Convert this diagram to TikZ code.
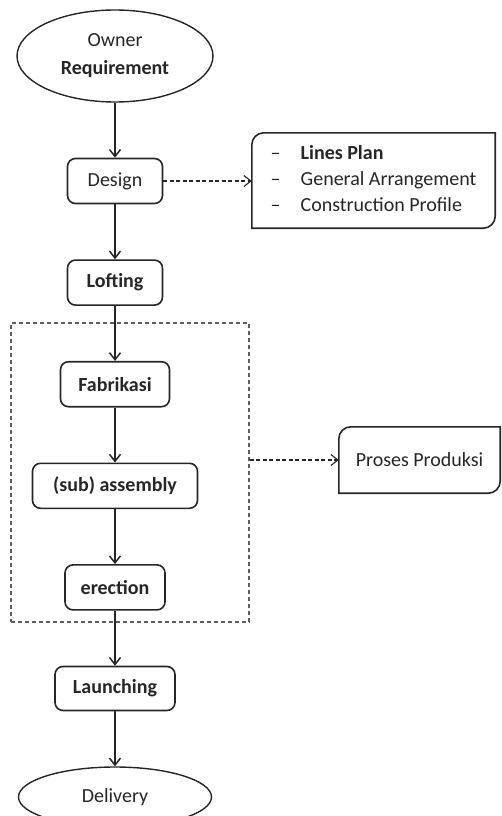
\documentclass[tikz,border=0pt]{standalone}
\usepackage{fontspec}
\setmainfont{Carlito}
\usetikzlibrary{positioning, arrows.meta, shapes.geometric}
\definecolor{flowInk}{HTML}{262626}
\definecolor{frameGrey}{HTML}{5E5E5E}
% outline with two diagonal corners rounded
\newcommand{\diagframe}[1]{%
  \draw[flowInk, line width=1.6pt] (#1.south west) -- ([yshift=-12pt]#1.north west)
    arc[start angle=180, end angle=90, radius=12pt] -- (#1.north east)
    -- ([yshift=12pt]#1.south east) arc[start angle=0, end angle=-90, radius=12pt] -- cycle;}

\begin{document}
\begin{tikzpicture}[x=1pt, y=1pt, font=\fontsize{20}{28}\selectfont, node distance=55pt,
    every node/.style={text=flowInk},
    stage/.style={draw=flowInk, line width=1.6pt, rounded corners=8pt, minimum height=45pt, inner sep=2pt},
    terminal/.style={draw=flowInk, line width=1.4pt, ellipse, inner sep=0pt},
    flow/.style={draw=flowInk, line width=1.5pt, -{Straight Barb[length=7pt, width=11pt]}},
    hint/.style={draw=flowInk, line width=1.1pt, dash pattern=on 4pt off 2.5pt, -{Straight Barb[length=7pt, width=11pt]}}]

  \useasboundingbox (0,0) rectangle (502,-816);

  % main chain
  \node[terminal, minimum width=196pt, minimum height=92pt, align=center] (owner) at (115,-56)
    {Owner\\\textbf{Requirement}};
  \node[stage, minimum width=95pt, below=of owner] (design) {Design};
  \node[stage, minimum width=95pt, below=of design] (lofting) {\textbf{Lofting}};
  \node[stage, minimum width=109pt, below=of lofting] (fabrikasi) {\textbf{Fabrikasi}};
  \node[stage, minimum width=165pt, below=of fabrikasi] (assembly) {\textbf{(sub) assembly}};
  \node[stage, minimum width=100pt, below=of assembly] (erection) {\textbf{erection}};
  \node[stage, minimum width=120pt, minimum height=44pt, below=of erection] (launching) {\textbf{Launching}};
  \node[terminal, minimum width=193pt, minimum height=60pt, below=of launching] (delivery) {Delivery};

  % production frame
  \node[draw=frameGrey, line width=1.1pt, dash pattern=on 4pt off 3pt,
        minimum width=238pt, minimum height=299pt] (frame) at (130,-472.5) {};

  % side notes
  \node[minimum width=243pt, minimum height=95pt, inner sep=0pt, font=\fontsize{20}{26}\selectfont] (plans) at (373.5,-180.5)
    {\begin{tabular}{@{}l@{\hspace{20pt}}l@{}}
      -- & \textbf{Lines Plan}\\
      -- & General Arrangement\\
      -- & Construction Profile
     \end{tabular}};
  \diagframe{plans}
  \node[minimum width=161pt, minimum height=66pt, inner sep=0pt] (proses) at (419.5,-460) {Proses Produksi};
  \diagframe{proses}

  \draw[flow] (owner) -- (design);
  \draw[flow] (design) -- (lofting);
  \draw[flow] (lofting) -- (fabrikasi);
  \draw[flow] (fabrikasi) -- (assembly);
  \draw[flow] (assembly) -- (erection);
  \draw[flow] (erection) -- (launching);
  \draw[flow] (launching) -- (delivery);

  \draw[hint] (design.east) -- (design.east -| plans.west);
  \draw[hint] (proses.west -| frame.east) -- (proses.west);
\end{tikzpicture}
\end{document}
